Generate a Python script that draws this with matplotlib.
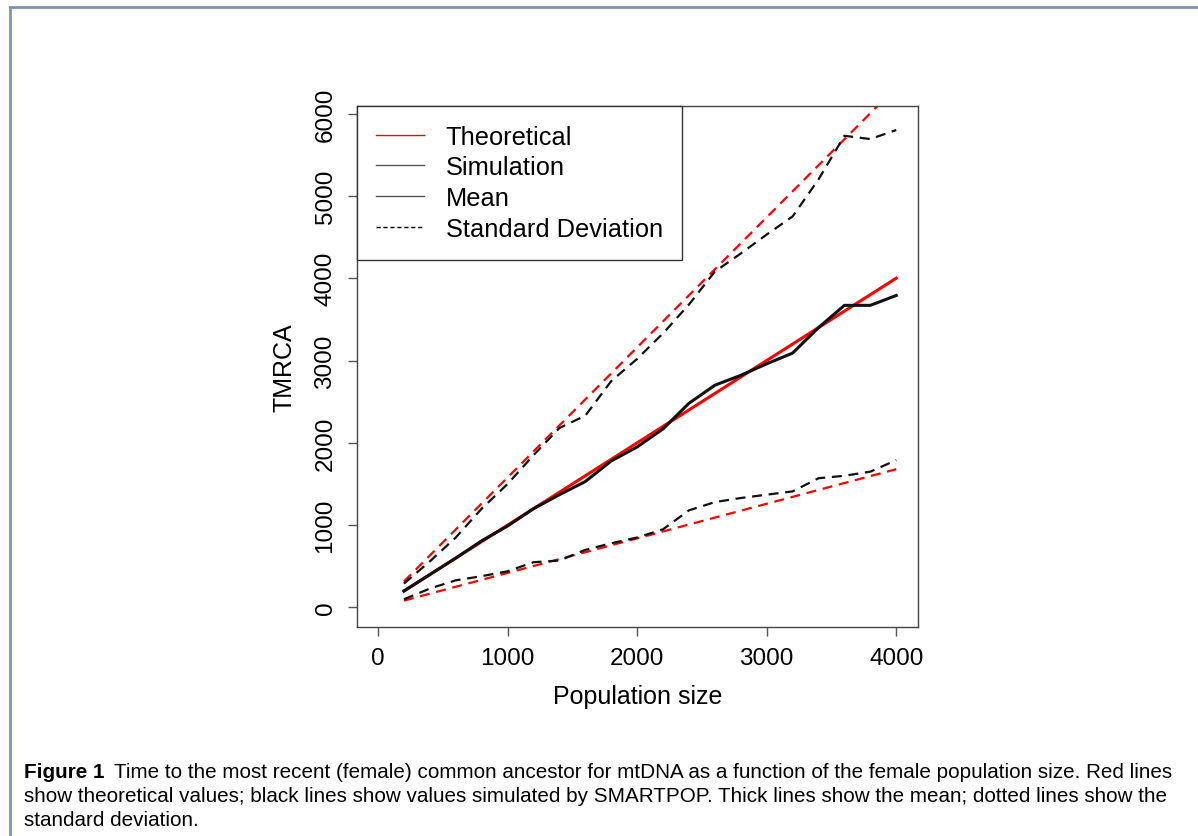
import matplotlib
matplotlib.use('Agg')
import matplotlib.pyplot as plt
from matplotlib.lines import Line2D

# population sizes (x) and TMRCA values
pop_size = [200, 400, 600, 800, 1000, 1200, 1400, 1600, 1800, 2000,
            2200, 2400, 2600, 2800, 3000, 3200, 3400, 3600, 3800, 4000]

theory_mean = [200, 400, 600, 800, 1000, 1200, 1400, 1600, 1800, 2000,
               2200, 2400, 2600, 2800, 3000, 3200, 3400, 3600, 3800, 4000]
theory_upper = [316, 632, 948, 1264, 1580, 1896, 2212, 2528, 2844, 3160,
                3476, 3792, 4108, 4424, 4740, 5056, 5372, 5688, 6004, 6320]
theory_lower = [84, 168, 252, 336, 420, 504, 588, 672, 756, 840,
                924, 1008, 1092, 1176, 1260, 1344, 1428, 1512, 1596, 1680]

sim_mean = [200, 400, 600, 810, 990, 1200, 1370, 1530, 1780, 1950,
            2170, 2480, 2700, 2820, 2960, 3090, 3400, 3670, 3670, 3790]
sim_upper = [290, 560, 850, 1200, 1500, 1850, 2180, 2330, 2750, 3020,
             3330, 3680, 4080, 4300, 4530, 4750, 5200, 5730, 5690, 5800]
sim_lower = [100, 230, 330, 380, 440, 550, 570, 700, 780, 850,
             950, 1180, 1280, 1330, 1370, 1410, 1570, 1600, 1650, 1790]

legend_labels = ["Theoretical", "Simulation", "Mean", "Standard Deviation"]
caption_lines = [
    "Time to the most recent (female) common ancestor for mtDNA as a function of the female population size. Red lines",
    "show theoretical values; black lines show values simulated by SMARTPOP. Thick lines show the mean; dotted lines show the",
    "standard deviation.",
]

plt.rcParams['font.family'] = ['Liberation Sans', 'DejaVu Sans']

fig = plt.figure(figsize=(11.98, 8.37), dpi=100)
ax = fig.add_axes([0.2977, 0.2497, 0.4688, 0.6228])

dash = (4.5, 3)
ax.plot(pop_size, theory_upper, color='red', lw=1.6, dashes=dash)
ax.plot(pop_size, theory_lower, color='red', lw=1.6, dashes=dash)
ax.plot(pop_size, theory_mean, color='red', lw=2.2)
ax.plot(pop_size, sim_upper, color='#111111', lw=1.6, dashes=dash)
ax.plot(pop_size, sim_lower, color='#111111', lw=1.6, dashes=dash)
ax.plot(pop_size, sim_mean, color='#111111', lw=2.2)

ax.set_xlim(-165, 4170)
ax.set_ylim(-237, 6095)
ax.set_xticks([0, 1000, 2000, 3000, 4000])
ax.set_yticks([0, 1000, 2000, 3000, 4000, 5000, 6000])
for s in ax.spines.values():
    s.set_color('#444444')
    s.set_linewidth(1.0)
ax.tick_params(length=6.5, width=1, color='#555555', labelsize=17.5, pad=8)
for lab in ax.get_yticklabels():
    lab.set_rotation(90)
    lab.set_va('center')
ax.tick_params(axis='y', pad=8)
ax.set_xlabel("Population size", fontsize=18, labelpad=11)
ax.set_ylabel("TMRCA", fontsize=18, labelpad=13)

handles = [
    Line2D([], [], color='red', lw=1),
    Line2D([], [], color='#555555', lw=1),
    Line2D([], [], color='#555555', lw=1),
    Line2D([], [], color='black', lw=1, dashes=(3, 2)),
]
leg = ax.legend(handles, legend_labels, loc='upper left', bbox_to_anchor=(0, 1),
                borderaxespad=0, fancybox=False, framealpha=1, edgecolor='#333333',
                fontsize=18.3, handlelength=1.9, handletextpad=0.85,
                labelspacing=0.26, borderpad=0.75)
leg.get_frame().set_linewidth(1.0)

# page frame (left and top edges)
frame_color = '#7a93b3'
fig.add_artist(Line2D([10 / 1198, 10 / 1198], [0, 1 - 8 / 837], color=frame_color, lw=2,
                      transform=fig.transFigure))
fig.add_artist(Line2D([10 / 1198, 1], [1 - 8 / 837, 1 - 8 / 837], color=frame_color, lw=2,
                      transform=fig.transFigure))

# caption
cap_size = 14.9
x0 = 24 / 1198
line_y = [773, 797, 821]
bold = fig.text(x0, 1 - line_y[0] / 837, "Figure 1", fontsize=cap_size, fontweight='bold',
                va='center', ha='left')
fig.canvas.draw()
bb = bold.get_window_extent()
fig.text((bb.x1 + 9) / 1198, 1 - line_y[0] / 837, caption_lines[0], fontsize=cap_size,
         va='center', ha='left')
for txt, y in zip(caption_lines[1:], line_y[1:]):
    fig.text(x0, 1 - y / 837, txt, fontsize=cap_size, va='center', ha='left')

fig.savefig('out.png', dpi=100)
